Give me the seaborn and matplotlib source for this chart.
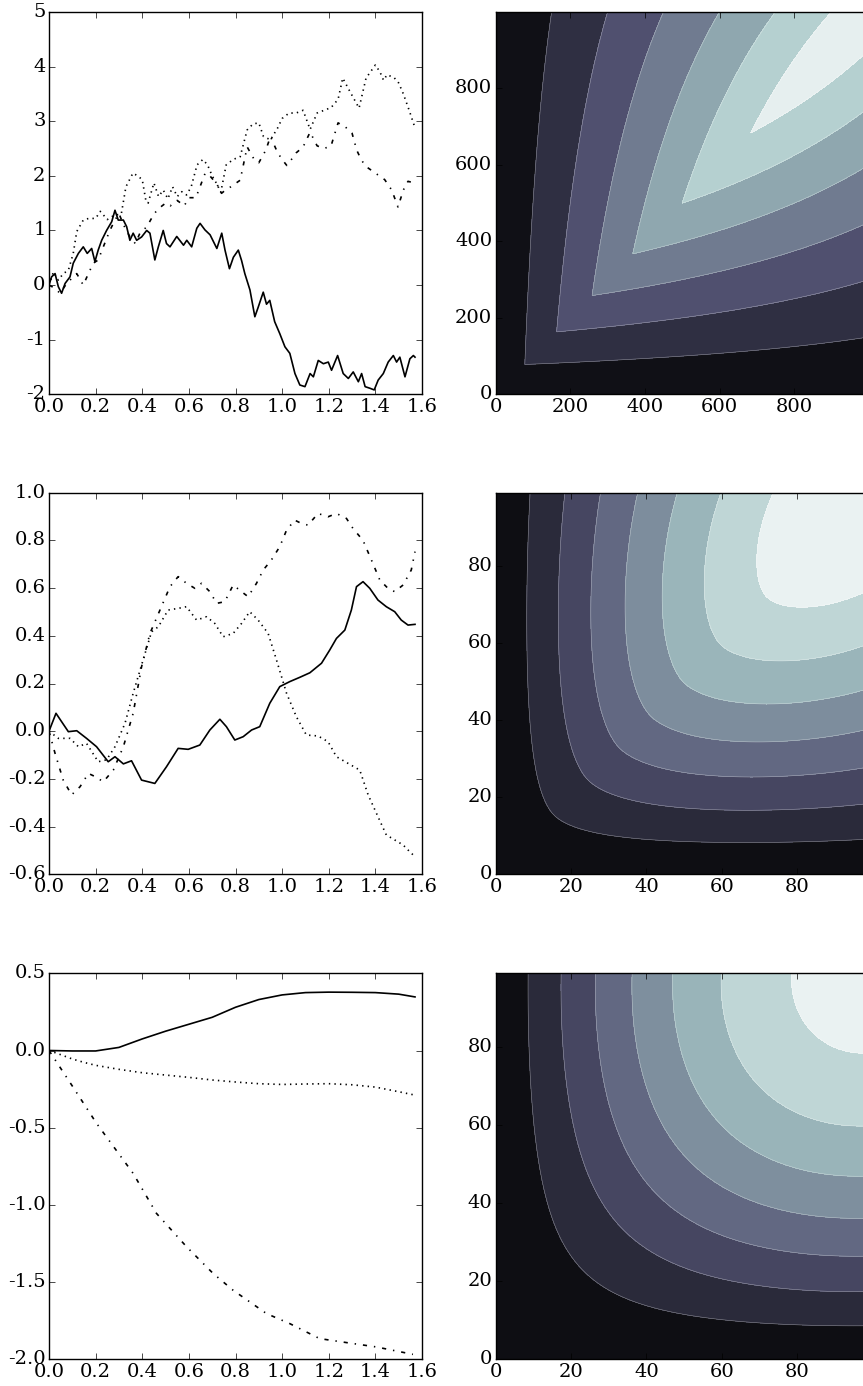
import numpy as np
import matplotlib
matplotlib.use("Agg")
import matplotlib.pyplot as plt
import seaborn as sns

# ---------------------------------------------------------------------------
# Sample paths (left column)
# ---------------------------------------------------------------------------
# Row 1: rough paths
r1_solid_x = [0.000, 0.011, 0.026, 0.040, 0.054, 0.069, 0.090, 0.104, 0.126, 0.147,
              0.164, 0.183, 0.197, 0.211, 0.226, 0.247, 0.269, 0.283, 0.297, 0.319,
              0.333, 0.347, 0.361, 0.376, 0.397, 0.419, 0.433, 0.454, 0.469, 0.490,
              0.504, 0.519, 0.548, 0.577, 0.591, 0.612, 0.634, 0.648, 0.669, 0.691,
              0.720, 0.741, 0.755, 0.774, 0.791, 0.812, 0.826, 0.840, 0.862, 0.883,
              0.897, 0.919, 0.933, 0.947, 0.968, 0.990, 1.012, 1.033, 1.055, 1.076,
              1.098, 1.120, 1.134, 1.155, 1.177, 1.198, 1.212, 1.238, 1.262, 1.284,
              1.305, 1.327, 1.341, 1.356, 1.377, 1.395, 1.412, 1.434, 1.455, 1.477,
              1.491, 1.505, 1.527, 1.548, 1.563, 1.570]
r1_solid_y = [0.00, 0.15, 0.21, -0.03, -0.15, 0.03, 0.15, 0.40, 0.58, 0.70,
              0.58, 0.67, 0.43, 0.64, 0.82, 1.00, 1.16, 1.37, 1.19, 1.19,
              1.07, 0.82, 0.95, 0.82, 0.88, 1.00, 0.95, 0.46, 0.70, 1.00,
              0.76, 0.70, 0.89, 0.73, 0.82, 0.70, 1.04, 1.13, 1.01, 0.92,
              0.67, 0.95, 0.64, 0.30, 0.51, 0.64, 0.45, 0.21, -0.09, -0.58,
              -0.41, -0.13, -0.35, -0.28, -0.67, -0.89, -1.13, -1.25, -1.62, -1.83,
              -1.86, -1.62, -1.68, -1.38, -1.44, -1.41, -1.56, -1.29, -1.62, -1.71,
              -1.59, -1.77, -1.62, -1.86, -1.89, -1.92, -1.74, -1.62, -1.41, -1.29,
              -1.41, -1.32, -1.68, -1.35, -1.29, -1.32]

r1_dot_x = [0.000, 0.019, 0.040, 0.061, 0.083, 0.104, 0.119, 0.147, 0.170, 0.200,
            0.220, 0.250, 0.280, 0.310, 0.330, 0.360, 0.380, 0.400, 0.415, 0.425,
            0.450, 0.470, 0.490, 0.510, 0.530, 0.550, 0.570, 0.590, 0.610, 0.635,
            0.660, 0.680, 0.700, 0.720, 0.737, 0.760, 0.790, 0.820, 0.850, 0.875,
            0.900, 0.920, 0.950, 0.980, 1.000, 1.030, 1.060, 1.090, 1.120, 1.150,
            1.180, 1.210, 1.240, 1.260, 1.290, 1.330, 1.360, 1.400, 1.420, 1.435,
            1.450, 1.480, 1.500, 1.520, 1.545, 1.566]
r1_dot_y = [0.00, 0.24, 0.09, 0.21, 0.27, 0.58, 0.98, 1.19, 1.22, 1.22,
            1.35, 1.20, 1.28, 1.30, 1.80, 2.05, 2.00, 1.93, 1.56, 1.50,
            1.87, 1.62, 1.74, 1.58, 1.80, 1.62, 1.71, 1.65, 1.80, 2.20,
            2.30, 2.20, 2.00, 1.85, 1.70, 2.20, 2.30, 2.35, 2.84, 2.95,
            2.97, 2.72, 2.66, 2.87, 3.05, 3.15, 3.15, 3.20, 2.85, 3.15,
            3.20, 3.25, 3.40, 3.79, 3.55, 3.24, 3.79, 4.03, 3.90, 3.75,
            3.85, 3.80, 3.70, 3.50, 3.20, 2.93]

r1_dashdot_x = [0.000, 0.026, 0.047, 0.076, 0.097, 0.119, 0.147, 0.169, 0.190, 0.211,
                0.233, 0.261, 0.283, 0.300, 0.320, 0.345, 0.370, 0.390, 0.420, 0.450,
                0.470, 0.500, 0.520, 0.550, 0.580, 0.600, 0.630, 0.670, 0.690, 0.720,
                0.740, 0.760, 0.780, 0.820, 0.850, 0.880, 0.900, 0.930, 0.950, 0.980,
                1.000, 1.020, 1.040, 1.060, 1.090, 1.120, 1.150, 1.180, 1.210, 1.240,
                1.270, 1.300, 1.320, 1.340, 1.360, 1.400, 1.440, 1.470, 1.497, 1.520,
                1.540, 1.566]
r1_dashdot_y = [0.00, -0.06, -0.15, 0.03, 0.12, 0.21, 0.00, 0.21, 0.40, 0.46,
                0.70, 1.00, 1.19, 1.31, 1.10, 0.90, 0.76, 0.95, 1.07, 1.30,
                1.40, 1.50, 1.45, 1.55, 1.45, 1.60, 1.60, 2.05, 2.00, 1.85,
                1.68, 1.75, 1.80, 1.92, 2.53, 2.30, 2.24, 2.47, 2.72, 2.43,
                2.30, 2.19, 2.30, 2.42, 2.53, 2.80, 2.55, 2.50, 2.55, 2.97,
                2.90, 2.78, 2.47, 2.29, 2.17, 2.05, 1.93, 1.74, 1.43, 1.74,
                1.90, 1.87]

# Row 2: smoother paths
r2_solid_x = [0.000, 0.030, 0.054, 0.083, 0.119, 0.161, 0.204, 0.254, 0.283, 0.319,
              0.354, 0.397, 0.454, 0.504, 0.554, 0.597, 0.647, 0.690, 0.733, 0.761,
              0.797, 0.833, 0.869, 0.904, 0.947, 0.990, 1.033, 1.076, 1.119, 1.169,
              1.204, 1.233, 1.269, 1.297, 1.319, 1.347, 1.376, 1.411, 1.447, 1.483,
              1.511, 1.540, 1.570]
r2_solid_y = [0.000, 0.075, 0.040, -0.002, 0.002, -0.030, -0.065, -0.128, -0.107, -0.137,
              -0.124, -0.205, -0.219, -0.149, -0.072, -0.076, -0.058, 0.005, 0.050, 0.019,
              -0.037, -0.023, 0.005, 0.019, 0.117, 0.187, 0.208, 0.226, 0.245, 0.285,
              0.340, 0.389, 0.424, 0.508, 0.606, 0.627, 0.599, 0.550, 0.522, 0.501,
              0.466, 0.445, 0.448]

r2_dot_x = [0.000, 0.040, 0.090, 0.126, 0.161, 0.211, 0.247, 0.283, 0.326, 0.361,
            0.404, 0.440, 0.469, 0.511, 0.554, 0.590, 0.633, 0.676, 0.711, 0.747,
            0.790, 0.826, 0.861, 0.897, 0.940, 0.976, 1.019, 1.061, 1.104, 1.154,
            1.197, 1.233, 1.283, 1.333, 1.369, 1.411, 1.447, 1.483, 1.519, 1.547,
            1.570]
r2_dot_y = [0.000, -0.030, -0.030, -0.065, -0.051, -0.128, -0.120, -0.065, 0.033, 0.159,
            0.300, 0.417, 0.438, 0.508, 0.515, 0.522, 0.466, 0.480, 0.452, 0.396,
            0.410, 0.452, 0.501, 0.466, 0.410, 0.298, 0.159, 0.061, -0.016, -0.020,
            -0.044, -0.107, -0.135, -0.163, -0.267, -0.358, -0.435, -0.456, -0.477, -0.505,
            -0.526]

r2_dashdot_x = [0.000, 0.026, 0.061, 0.097, 0.133, 0.169, 0.197, 0.233, 0.276, 0.319,
                0.361, 0.397, 0.433, 0.476, 0.519, 0.554, 0.590, 0.626, 0.654, 0.690,
                0.719, 0.754, 0.790, 0.826, 0.854, 0.890, 0.919, 0.954, 0.990, 1.019,
                1.054, 1.083, 1.111, 1.154, 1.197, 1.233, 1.276, 1.304, 1.347, 1.383,
                1.419, 1.454, 1.483, 1.519, 1.554, 1.570]
r2_dashdot_y = [0.000, -0.093, -0.205, -0.267, -0.233, -0.177, -0.190, -0.212, -0.163, -0.065,
                0.075, 0.270, 0.410, 0.508, 0.606, 0.648, 0.620, 0.599, 0.620, 0.585,
                0.536, 0.543, 0.613, 0.585, 0.564, 0.620, 0.676, 0.718, 0.774, 0.843,
                0.885, 0.871, 0.864, 0.913, 0.899, 0.913, 0.892, 0.850, 0.800, 0.718,
                0.634, 0.599, 0.585, 0.613, 0.676, 0.753]

# Row 3: smoothest paths
r3_solid_x = [0.0, 0.1, 0.2, 0.3, 0.4, 0.5, 0.6, 0.7, 0.8, 0.9,
              1.0, 1.1, 1.2, 1.3, 1.4, 1.5, 1.57]
r3_solid_y = [0.000, -0.003, -0.003, 0.020, 0.075, 0.125, 0.170, 0.215, 0.280, 0.330,
              0.360, 0.375, 0.378, 0.377, 0.375, 0.365, 0.347]

r3_dot_x = [0.0, 0.05, 0.1, 0.15, 0.2, 0.3, 0.4, 0.5, 0.6, 0.7,
            0.8, 0.9, 1.0, 1.1, 1.2, 1.3, 1.4, 1.5, 1.57]
r3_dot_y = [0.000, -0.027, -0.055, -0.077, -0.096, -0.122, -0.144, -0.159, -0.174, -0.191,
            -0.204, -0.215, -0.220, -0.217, -0.215, -0.222, -0.237, -0.267, -0.289]

r3_dashdot_x = [0.0, 0.1, 0.204, 0.361, 0.461, 0.59, 0.704, 0.79, 0.933, 1.033,
                1.161, 1.304, 1.404, 1.561]
r3_dashdot_y = [0.000, -0.230, -0.472, -0.796, -1.055, -1.271, -1.444, -1.553, -1.704, -1.769,
                -1.866, -1.898, -1.920, -1.968]

# Axis ranges / ticks of the path panels
path_ylims = [(-2, 5), (-0.6, 1.0), (-2.0, 0.5)]
path_yticks = [[-2, -1, 0, 1, 2, 3, 4, 5],
               [-0.6, -0.4, -0.2, 0.0, 0.2, 0.4, 0.6, 0.8, 1.0],
               [-2.0, -1.5, -1.0, -0.5, 0.0, 0.5]]
path_yfmt = ["{:.0f}", "{:.1f}", "{:.1f}"]
path_xticks = [0.0, 0.2, 0.4, 0.6, 0.8, 1.0, 1.2, 1.4, 1.6]

# ---------------------------------------------------------------------------
# Covariance surfaces (right column): sum_n sin(n s) sin(n t) / n**p on [0, pi/2]
# ---------------------------------------------------------------------------
grid_sizes = [1000, 100, 100]
decay_powers = [2, 3, 6]
n_terms = 1000
level_steps = [0.185, 0.1324, 0.1355]
band_counts = [7, 8, 8]


def kl_covariance(n_points, power):
    t = np.linspace(0.0, np.pi / 2, n_points)
    n = np.arange(1, n_terms + 1, dtype=float)
    S = np.sin(np.outer(n, t))
    w = 1.0 / n ** power
    return (S.T * w) @ S


# ---------------------------------------------------------------------------
plt.style.use("classic")
plt.rcParams.update({
    "font.family": "DejaVu Serif",
    "font.size": 14,
    "axes.unicode_minus": False,
    "figure.facecolor": "white",
    "savefig.facecolor": "white",
    "axes.facecolor": "white",
    "lines.linewidth": 1.2,
    "xtick.direction": "in",
    "ytick.direction": "in",
    "xtick.major.pad": 3,
    "ytick.major.pad": 2.5,
})

W, H = 863, 1386
fig = plt.figure(figsize=(W / 100, H / 100), dpi=100)

rows_px = [(12.0, 394.3), (492.7, 874.3), (973.3, 1359.3)]
left_px, right_col_px, width_px = 49.0, 495.7, 373.0


def add_ax(x0, top, bottom):
    return fig.add_axes([x0 / W, 1 - bottom / H, width_px / W, (bottom - top) / H])


paths = [
    [(r1_solid_x, r1_solid_y, "-"), (r1_dot_x, r1_dot_y, ":"), (r1_dashdot_x, r1_dashdot_y, "-.")],
    [(r2_solid_x, r2_solid_y, "-"), (r2_dot_x, r2_dot_y, ":"), (r2_dashdot_x, r2_dashdot_y, "-.")],
    [(r3_solid_x, r3_solid_y, "-"), (r3_dot_x, r3_dot_y, ":"), (r3_dashdot_x, r3_dashdot_y, "-.")],
]

for i, (top, bottom) in enumerate(rows_px):
    ax = add_ax(left_px, top, bottom)
    for xs, ys, ls in paths[i]:
        sns.lineplot(x=xs, y=ys, ax=ax, color="black", linestyle=ls, linewidth=1.2)
    ax.set_xlim(0, 1.6)
    ax.set_ylim(*path_ylims[i])
    ax.set_xticks(path_xticks)
    ax.set_xticklabels([f"{v:.1f}" for v in path_xticks])
    ax.set_yticks(path_yticks[i])
    ax.set_yticklabels([path_yfmt[i].format(v) for v in path_yticks[i]])
    ax.tick_params(top=True, right=True, direction="in", length=4)

    axc = add_ax(right_col_px, top, bottom)
    n = grid_sizes[i]
    Z = kl_covariance(n, decay_powers[i])
    idx = np.arange(n)
    levels = level_steps[i] * np.arange(band_counts[i] + 1)
    axc.contourf(idx, idx, Z, levels=levels, cmap="bone")
    axc.contour(idx, idx, Z, levels=levels[1:-1], colors="white",
                linewidths=0.4, alpha=0.45)
    axc.set_xlim(0, n - 1)
    axc.set_ylim(0, n - 1)
    axc.tick_params(top=True, right=True, direction="in", length=4)

fig.savefig("out.png", dpi=100)
